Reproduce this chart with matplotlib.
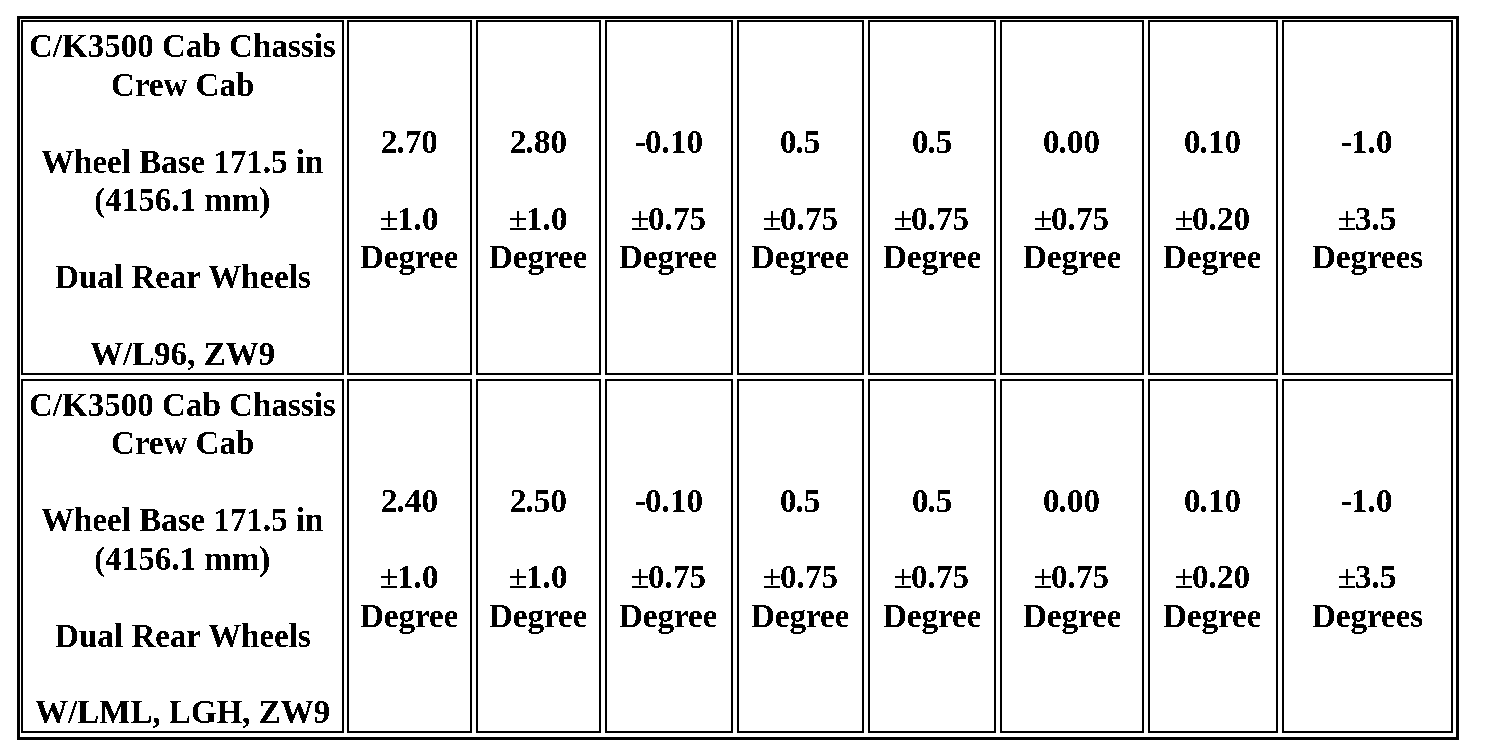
import matplotlib.pyplot as plt
from matplotlib.patches import Rectangle

plt.rcParams['text.antialiased'] = False

# table contents
vehicle_1 = ["C/K3500 Cab Chassis", "Crew Cab", "", "Wheel Base 171.5 in",
             "(4156.1 mm)", "", "Dual Rear Wheels", "", "W/L96, ZW9"]
vehicle_2 = ["C/K3500 Cab Chassis", "Crew Cab", "", "Wheel Base 171.5 in",
             "(4156.1 mm)", "", "Dual Rear Wheels", "", "W/LML, LGH, ZW9"]
nominal_1 = ["2.70", "2.80", "-0.10", "0.5", "0.5", "0.00", "0.10", "-1.0"]
nominal_2 = ["2.40", "2.50", "-0.10", "0.5", "0.5", "0.00", "0.10", "-1.0"]
tolerance = ["±1.0", "±1.0", "±0.75", "±0.75", "±0.75", "±0.75", "±0.20", "±3.5"]
units = ["Degree"] * 7 + ["Degrees"]

rows = [(vehicle_1, nominal_1), (vehicle_2, nominal_2)]

# layout in pixels (border centre lines)
col_edges = [(22, 343), (348, 471), (477, 600), (606, 732), (738, 863),
             (869, 995), (1001, 1143), (1149, 1277), (1283, 1452)]
row_edges = [(21, 374), (380, 732)]
line_h = 38.4
base_off = 32.5

fig = plt.figure(figsize=(15.04, 7.56), dpi=100)
ax = fig.add_axes([0, 0, 1, 1])
ax.set_xlim(0, 1504)
ax.set_ylim(756, 0)
ax.axis('off')

font = dict(family='Liberation Serif', weight='bold', size=23.8,
            ha='center', va='baseline', color='black')

# outer border
ax.add_patch(Rectangle((17.5, 16.5), 1456.5 - 17.5, 737.5 - 16.5, fill=False,
                       lw=3 * 0.72, ec='black', antialiased=False))

for (top, bot), (label, nominal) in zip(row_edges, rows):
    mid = (top + bot) / 2
    for c, (left, right) in enumerate(col_edges):
        ax.add_patch(Rectangle((left, top), right - left, bot - top, fill=False,
                               lw=2 * 0.72, ec='black', antialiased=False))
        cx = (left + right) / 2
        if c == 0:
            lines = label
        else:
            lines = [nominal[c - 1], "", tolerance[c - 1], units[c - 1]]
        start = mid - len(lines) * line_h / 2 + base_off
        for i, s in enumerate(lines):
            if s:
                ax.text(cx, start + i * line_h, s, **font)

fig.savefig('out.png', dpi=100)
